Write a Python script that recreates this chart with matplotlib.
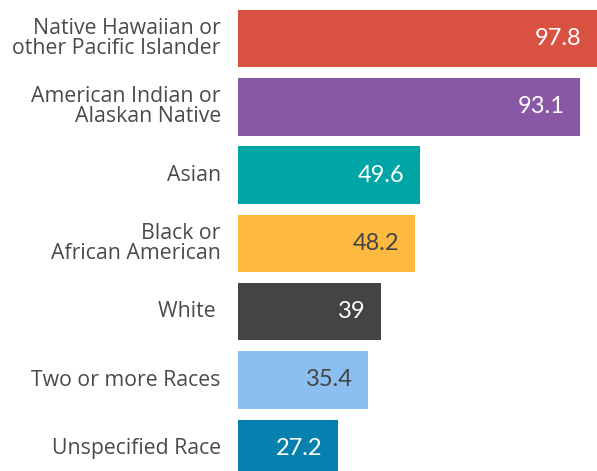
import matplotlib.pyplot as plt

# data
groups = ["Native Hawaiian or\nother Pacific Islander", "American Indian or\nAlaskan Native",
          "Asian", "Black or\nAfrican American", "White ", "Two or more Races", "Unspecified Race"]
values = [97.8, 93.1, 49.6, 48.2, 39, 35.4, 27.2]
value_labels = ["97.8", "93.1", "49.6", "48.2", "39", "35.4", "27.2"]
colors = ["#D95140", "#8958A4", "#00A6A6", "#FEB941", "#444446", "#8BBFF0", "#0680AE"]
text_colors = ["white", "white", "white", "#444444", "white", "#444444", "white"]

W, H = 597, 471
fig = plt.figure(figsize=(W / 100, H / 100), dpi=100)
ax = fig.add_axes([237.5 / W, 0, 1 - 237.5 / W, 1])

pos = list(range(len(values)))
ax.barh(pos, values, height=0.842, color=colors)
ax.set_xlim(0, (W - 237.5) / 3.68)
ax.set_ylim((H - 38.5) / 68.3, -38.5 / 68.3)
ax.axis("off")

for i, (v, lab, tc) in enumerate(zip(values, value_labels, text_colors)):
    ax.annotate(lab, xy=(min(v, ax.get_xlim()[1]), i), xytext=(-11, 0), textcoords="offset points",
                ha="right", va="center", fontsize=17, color=tc, family="Lato")

for i, g in enumerate(groups):
    ax.annotate(g, xy=(0, i), xytext=(-12, 0), textcoords="offset points",
                ha="right", va="center", fontsize=15.3, color="#4a4a4a", family="Open Sans",
                linespacing=0.93, multialignment="right", annotation_clip=False)

fig.savefig("out.png", dpi=100)
